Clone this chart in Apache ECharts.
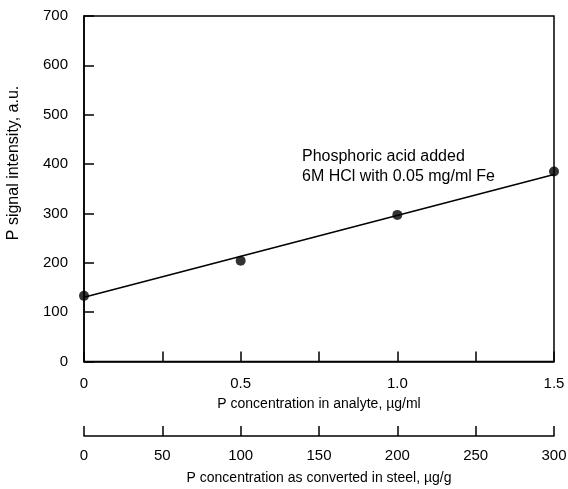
<!DOCTYPE html>
<html>
<head>
<meta charset="utf-8">
<script src="https://cdn.jsdelivr.net/npm/echarts@6/dist/echarts.min.js"></script>
<style>html,body{margin:0;padding:0;background:#fff}#c{width:568px;height:489px}</style>
</head>
<body>
<div id="c"></div>
<script>
var concAnalyte = [0, 0.5, 1.0, 1.5];
var signal = [133, 204, 297, 385];
var fitX = [0, 1.5];
var fitY = [130, 379];
var yTicks = [0, 100, 200, 300, 400, 500, 600, 700];
var steelTicks = [0, 50, 100, 150, 200, 250, 300];
var annotation = ['Phosphoric acid added', '6M HCl with 0.05 mg/ml Fe'];
var yTitle = 'P signal intensity, a.u.';

var FONT = 'Liberation Sans, Arial, sans-serif';
var chart = echarts.init(document.getElementById('c'), null, {renderer: 'canvas'});
var lineStyle = {color: '#000', width: 1.5};
chart.setOption({
  animation: false,
  backgroundColor: '#fff',
  grid: [
    {left: 84, right: 14, top: 16, bottom: 127.5, show: true, borderColor: '#000', borderWidth: 1.5,
     backgroundColor: 'transparent', containLabel: false, outerBoundsMode: 'none'},
    {left: 84, right: 14, top: 426, height: 10, show: false, containLabel: false, outerBoundsMode: 'none'}
  ],
  xAxis: [
    {
      type: 'value', gridIndex: 0, min: 0, max: 1.5, interval: 0.25,
      name: 'P concentration in analyte, µg/ml', nameLocation: 'middle', nameGap: 36,
      nameTextStyle: {color: '#000', fontSize: 14, fontFamily: FONT},
      axisLine: {show: true, lineStyle: lineStyle},
      axisTick: {show: true, inside: true, length: 10, lineStyle: lineStyle},
      splitLine: {show: false},
      axisLabel: {
        color: '#000', fontSize: 15, fontFamily: FONT, margin: 15,
        formatter: function (v) {
          var k = Math.round(v * 4);
          if (k % 2 !== 0) return '';
          return v === 0 ? '0' : v.toFixed(1);
        }
      }
    },
    {
      type: 'value', gridIndex: 1, min: 0, max: 300, interval: 50, position: 'bottom',
      name: 'P concentration as converted in steel, µg/g', nameLocation: 'middle', nameGap: 35,
      nameTextStyle: {color: '#000', fontSize: 14, fontFamily: FONT},
      axisLine: {show: true, onZero: false, lineStyle: lineStyle},
      axisTick: {show: true, inside: true, length: 10, lineStyle: lineStyle},
      splitLine: {show: false},
      axisLabel: {color: '#000', fontSize: 15, fontFamily: FONT, margin: 12,
        formatter: function (v) { return steelTicks.indexOf(v) >= 0 ? String(v) : ''; }}
    }
  ],
  yAxis: [
    {
      type: 'value', gridIndex: 0, min: 0, max: 700, interval: 100,
      axisLine: {show: true, lineStyle: lineStyle},
      axisTick: {show: true, inside: true, length: 10, lineStyle: lineStyle},
      splitLine: {show: false},
      axisLabel: {color: '#000', fontSize: 15, fontFamily: FONT, margin: 16,
        formatter: function (v) { return yTicks.indexOf(v) >= 0 ? String(v) : ''; }}
    },
    {type: 'value', gridIndex: 1, min: 0, max: 1, show: false}
  ],
  series: [
    {
      type: 'line', xAxisIndex: 0, yAxisIndex: 0,
      data: fitX.map(function (x, i) { return [x, fitY[i]]; }),
      showSymbol: false, symbol: 'none',
      lineStyle: {color: '#000', width: 1.5}, z: 2
    },
    {
      type: 'scatter', xAxisIndex: 0, yAxisIndex: 0,
      data: concAnalyte.map(function (x, i) { return [x, signal[i]]; }),
      symbol: 'circle', symbolSize: 10, clip: false,
      itemStyle: {color: '#000'}, z: 3
    }
  ],
  graphic: [
    {type: 'text', left: 302, top: 147, style: {text: annotation.join('\n'), fill: '#000', font: '16px ' + FONT, lineHeight: 20}},
    {type: 'text', x: 14, y: 163, rotation: Math.PI / 2,
     style: {text: yTitle, fill: '#000', font: '16px ' + FONT, textAlign: 'center', textVerticalAlign: 'middle'}}
  ]
});
</script>
</body>
</html>
